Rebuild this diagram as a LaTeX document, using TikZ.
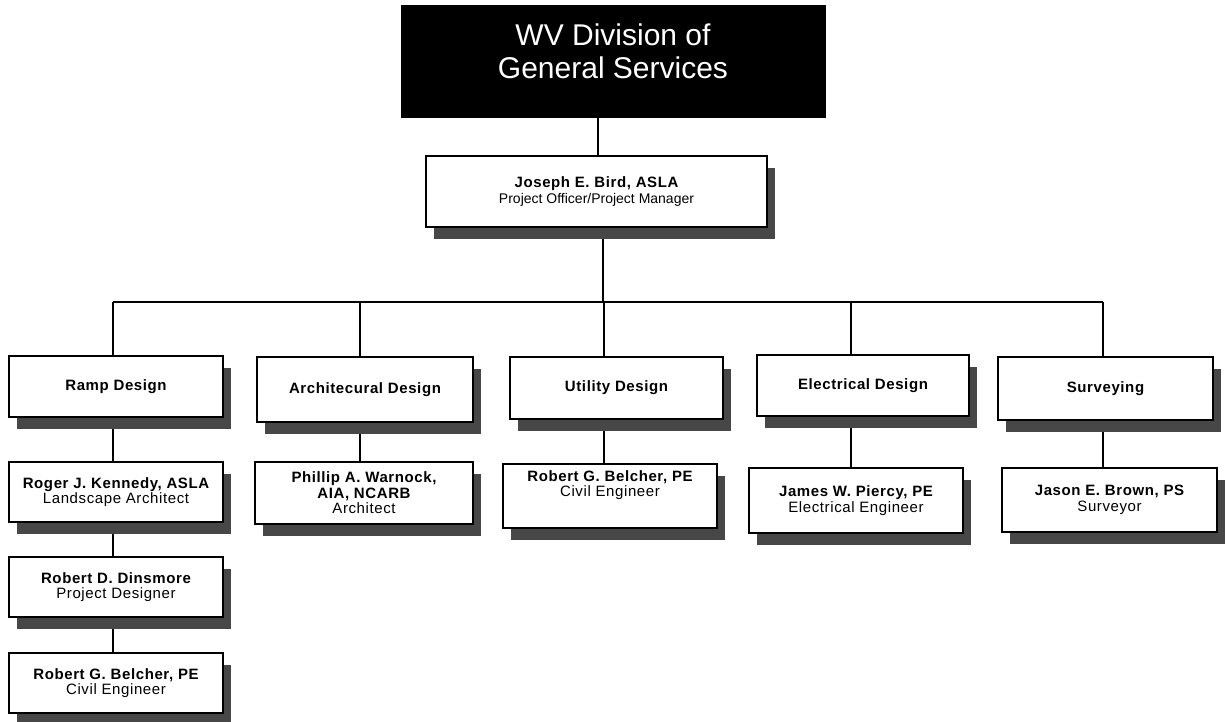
\documentclass[tikz,border=0pt]{standalone}
\usepackage{fontspec}
\setmainfont{Liberation Sans}
\newfontfamily\lsfont{Liberation Sans}[LetterSpace=4]
\newfontfamily\plainfont{Liberation Sans}
\usetikzlibrary{shadows,backgrounds,calc}
\begin{document}
\begin{tikzpicture}[x=1pt,y=-1pt,
  conn/.style={draw=black, line width=1.6pt},
  orgbox/.style={draw=black, line width=1.6pt, fill=white, inner sep=0pt,
    align=center, font=\lsfont\fontsize{15}{15.5}\selectfont,
    general shadow={fill=black!72, shadow xshift=8pt, shadow yshift=-12pt}},
  boxtext/.style={align=center, inner sep=0pt, font=\lsfont\fontsize{15}{15.5}\selectfont}
]
\useasboundingbox (0,0) rectangle (1225,721);

% top
\node[draw=black, fill=black, minimum width=424pt, minimum height=112pt, inner sep=0pt] (top) at (613,61) {};
\node[text=white, align=center, inner sep=0pt, font=\plainfont\fontsize{30}{33}\selectfont] (toptext) at (613,51) {WV Division of\\General Services};

% manager
\node[orgbox, minimum width=341pt, minimum height=71pt] (joseph) at (596.5,191.5)
  {\bfseries Joseph E. Bird, ASLA\\{\plainfont\fontsize{14}{15}\selectfont Project Officer/Project Manager}};

% level 2
\node[orgbox, minimum width=214pt, minimum height=61pt] (ramp) at (116,386.5) {\bfseries Ramp Design};
\node[orgbox, minimum width=216pt, minimum height=65pt] (arch) at (365,389.5) {\bfseries Architecural Design};
\node[orgbox, minimum width=213pt, minimum height=62pt] (util) at (616.5,388) {\bfseries Utility Design};
\node[orgbox, minimum width=212pt, minimum height=61pt] (elec) at (863,385.5) {\bfseries Electrical Design};
\node[orgbox, minimum width=215pt, minimum height=63pt] (surv) at (1105.5,388.5) {\bfseries Surveying};

% level 3
\node[orgbox, minimum width=214pt, minimum height=60pt] (roger) at (116,492)
  {\bfseries Roger J. Kennedy, ASLA\\Landscape Architect};
\node[orgbox, minimum width=218pt, minimum height=62pt] (phil) at (364,493)
  {\bfseries Phillip A. Warnock,\\\bfseries AIA, NCARB\\Architect};
\node[orgbox, minimum width=214pt, minimum height=64pt] (belu) at (610,496) {};
\node[boxtext] (belutext) at (610,485) {\bfseries Robert G. Belcher, PE\\Civil Engineer};
\node[orgbox, minimum width=214pt, minimum height=65pt] (james) at (856,500.5)
  {\bfseries James W. Piercy, PE\\Electrical Engineer};
\node[orgbox, minimum width=215pt, minimum height=64pt] (jason) at (1109.5,500)
  {\bfseries Jason E. Brown, PS\\Surveyor};

% ramp chain
\node[orgbox, minimum width=214pt, minimum height=60pt] (dins) at (116,587)
  {\bfseries Robert D. Dinsmore\\Project Designer};
\node[orgbox, minimum width=214pt, minimum height=60pt] (belr) at (116,683)
  {\bfseries Robert G. Belcher, PE\\Civil Engineer};

% connector coordinates
\coordinate (c0) at (598,302);
\coordinate (bus) at (603,302);
\coordinate (d1) at (113,302);
\coordinate (d2) at (360,302);
\coordinate (d3) at (604,302);
\coordinate (d4) at (851,302);
\coordinate (d5) at (1103,302);

\begin{scope}[on background layer]
  \draw[conn] (c0 |- top.south) -- (c0 |- joseph.north);
  \draw[conn] (bus |- joseph.south) -- (bus);
  \draw[conn] (d1) -- (d5);
  \draw[conn] (d1) -- (d1 |- ramp.north);
  \draw[conn] (d2) -- (d2 |- arch.north);
  \draw[conn] (d3) -- (d3 |- util.north);
  \draw[conn] (d4) -- (d4 |- elec.north);
  \draw[conn] (d5) -- (d5 |- surv.north);
  \draw[conn] (d1 |- ramp.south) -- (d1 |- roger.north);
  \draw[conn] (d2 |- arch.south) -- (d2 |- phil.north);
  \draw[conn] (d3 |- util.south) -- (d3 |- belu.north);
  \draw[conn] (d4 |- elec.south) -- (d4 |- james.north);
  \draw[conn] (d5 |- surv.south) -- (d5 |- jason.north);
  \draw[conn] (d1 |- roger.south) -- (d1 |- dins.north);
  \draw[conn] (d1 |- dins.south) -- (d1 |- belr.north);
\end{scope}
\end{tikzpicture}
\end{document}
